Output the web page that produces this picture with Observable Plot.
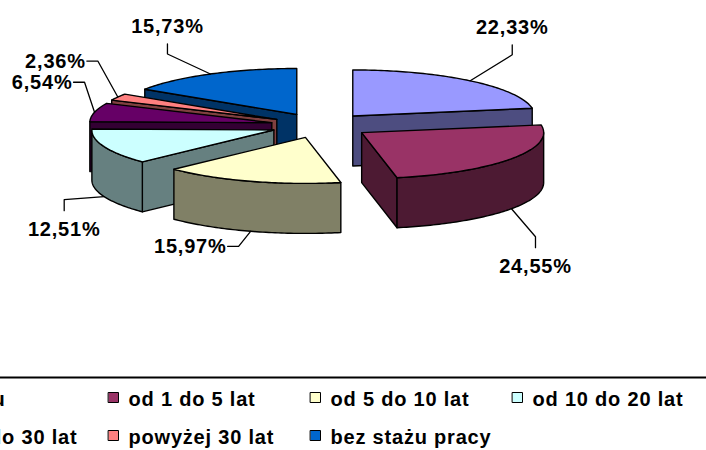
<!DOCTYPE html>
<html><head><meta charset="utf-8">
<script src="https://cdn.jsdelivr.net/npm/d3@7"></script>
<script src="https://cdn.jsdelivr.net/npm/@observablehq/plot@0.6"></script>
<style>
html,body{margin:0;padding:0;background:#fff;overflow:hidden;}
svg text{letter-spacing:0.8px;}
</style></head><body><div id="chart"></div>
<script>
// ---- data ----
const categories = ["do roku","od 1 do 5 lat","od 5 do 10 lat","od 10 do 20 lat","od 20 do 30 lat","powyżej 30 lat","bez stażu pracy"];
const shares = [22.33, 24.55, 15.97, 12.51, 6.54, 2.36, 15.73];
const topColors = ["#9999FF","#993366","#FFFFCC","#CCFFFF","#660066","#FF8080","#0066CC"];
const sideColors = ["#4D4D80","#4D1A33","#808066","#668080","#330033","#804040","#003366"];
const labelText = shares.map(v => v.toFixed(2).replace(".", ",") + "%");

// ---- layout ----
const W = 706, H = 450;
const pie = {cx: 320, cy: 125, rx: 182, ry: 46, depth: 50, ex: 50, ey: 12.5};
const leaderLayout = [[42,-26,"up"],[24,28,"down"],[-12,15,"left"],[-40,3,"down"],[-10,-30,"left"],[-20,-36,"left"],[-43,-20,"up"]];
const legendLayout = {x0: -94, colW: 202, y0: 392, rowH: 38, cols: 4, sw: 10};

const rad = d => d * Math.PI / 180;
const total = d3.sum(shares);
let acc = 0;
const slices = shares.map((v, i) => {
  const a1 = acc / total * 360; acc += v; const a2 = acc / total * 360;
  const m = (a1 + a2) / 2;
  const sx = pie.cx + pie.ex * Math.sin(rad(m));
  const sy = pie.cy - pie.ey * Math.cos(rad(m));
  return {i, a1, a2, m, sx, sy};
});
const P = (s, t, dz = 0) => ({x: s.sx + pie.rx * Math.sin(rad(t)), y: s.sy - pie.ry * Math.cos(rad(t)) + dz});
const C = (s, dz = 0) => ({x: s.sx, y: s.sy + dz});
const arc = (s, t1, t2, dz = 0) => {
  const n = Math.max(2, Math.ceil(Math.abs(t2 - t1)));
  return d3.range(n + 1).map(k => P(s, t1 + (t2 - t1) * k / n, dz));
};

const faces = [];
const order = slices.slice().sort((a, b) => Math.cos(rad(b.m)) - Math.cos(rad(a.m)));
for (const s of order) {
  const D = pie.depth;
  if (Math.cos(rad(s.a1 - 90)) < -1e-6)
    faces.push({pts: [C(s), P(s, s.a1), P(s, s.a1, D), C(s, D)], fill: sideColors[s.i]});
  if (Math.cos(rad(s.a2 + 90)) < -1e-6)
    faces.push({pts: [C(s), P(s, s.a2), P(s, s.a2, D), C(s, D)], fill: sideColors[s.i]});
  const w1 = Math.max(s.a1, 90), w2 = Math.min(s.a2, 270);
  if (w2 > w1)
    faces.push({pts: [...arc(s, w1, w2), ...arc(s, w1, w2, D).reverse()], fill: sideColors[s.i]});
  faces.push({pts: [C(s), ...arc(s, s.a1, s.a2)], fill: topColors[s.i]});
}

// labels and leaders
const leaders = [], labels = [];
slices.forEach(s => {
  const [dx, dy, dir] = leaderLayout[s.i];
  const front = Math.cos(rad(s.m)) < 0;
  const a = P(s, s.m, front ? pie.depth : 0);
  const e = {x: a.x + dx, y: a.y + dy};
  let end, t;
  if (dir === "up") { end = {x: e.x, y: e.y - 10}; t = {x: end.x, y: end.y - 11, anchor: "middle"}; }
  else if (dir === "down") { end = {x: e.x, y: e.y + 11}; t = {x: end.x, y: end.y + 25, anchor: "middle"}; }
  else { end = {x: e.x - 11, y: e.y}; t = {x: end.x - 1, y: end.y + 7, anchor: "end"}; }
  [a, e, end].forEach(p => leaders.push({...p, id: s.i}));
  labels.push({...t, text: labelText[s.i]});
});

const legendItems = categories.map((c, i) => {
  const col = i % legendLayout.cols, row = Math.floor(i / legendLayout.cols);
  const left = legendLayout.x0 + col * legendLayout.colW;
  const top = legendLayout.y0 + row * legendLayout.rowH;
  return {c, i, fill: topColors[i], left, top, tx: left + 20, ty: top + 13};
});
const swatchPts = legendItems.flatMap(d => {
  const s = legendLayout.sw;
  return [[0,0],[s,0],[s,s],[0,s]].map(([u, v]) => ({x: d.left + u, y: d.top + v, id: d.i, fill: d.fill}));
});

const font = "'Liberation Sans', Arial, Helvetica, sans-serif";
const textOpts = {x: "x", y: "y", text: "text", lineAnchor: "bottom", fontSize: 20, fontWeight: "bold", fontFamily: font, fill: "#000"};
const chart = Plot.plot({
  width: W, height: H,
  marginTop: 0, marginRight: 0, marginBottom: 0, marginLeft: 0,
  x: {domain: [0, W], range: [0, W], axis: null},
  y: {domain: [0, H], range: [0, H], axis: null},
  color: {type: "identity"},
  style: {fontFamily: font, background: "#fff"},
  marks: [
    ...faces.map(f => Plot.line(f.pts, {x: "x", y: "y", curve: "linear-closed", fill: f.fill, stroke: "#000", strokeWidth: 1.4, strokeLinejoin: "round"})),
    Plot.line(leaders, {x: "x", y: "y", z: "id", stroke: "#000", strokeWidth: 1.3}),
    Plot.text(labels.filter(d => d.anchor === "middle"), {...textOpts, textAnchor: "middle"}),
    Plot.text(labels.filter(d => d.anchor === "end"), {...textOpts, textAnchor: "end"}),
    Plot.ruleY([377], {x1: 0, x2: W, stroke: "#000", strokeWidth: 2}),
    Plot.line(swatchPts, {x: "x", y: "y", z: "id", fill: "fill", curve: "linear-closed", stroke: "#000", strokeWidth: 1}),
    Plot.text(legendItems, {x: "tx", y: "ty", text: "c", textAnchor: "start", lineAnchor: "bottom", fontSize: 20, fontWeight: "bold", fontFamily: font, fill: "#000"})
  ]
});
document.getElementById("chart").appendChild(chart);
</script></body></html>
